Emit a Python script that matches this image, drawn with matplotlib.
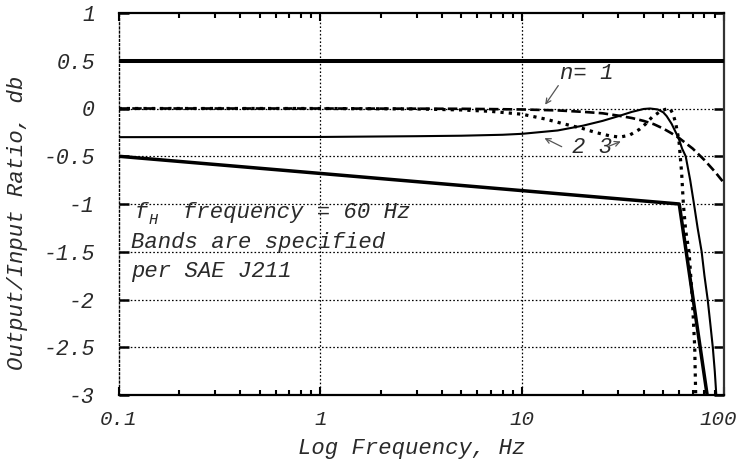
import matplotlib
matplotlib.use("Agg")
import matplotlib.pyplot as plt
import matplotlib.transforms as mtrans
from matplotlib.ticker import FixedLocator, FixedFormatter, LogLocator, NullFormatter

plt.rcParams['font.family'] = ['Liberation Mono', 'DejaVu Sans']
plt.rcParams['font.style'] = 'italic'

TXT = '#2a2a2a'

# ---- data ----
upper_f = [0.1, 100]
upper_db = [0.5, 0.5]

lower_f = [0.1, 60, 82.5]
lower_db = [-0.5, -1.0, -3.0]

n1_f = [0.1, 1, 5, 10, 15, 20, 25, 30, 35, 40, 45, 50, 55, 60, 70, 80, 90, 100]
n1_db = [0.0, 0.0, -0.003, -0.01, -0.02, -0.035, -0.05, -0.075, -0.1, -0.13,
         -0.165, -0.21, -0.26, -0.31, -0.42, -0.54, -0.66, -0.78]

n2_f = [0.1, 1, 3, 5, 8, 10, 15, 20, 25, 30, 35, 40, 43, 47, 50, 52, 55, 58,
        60, 62, 64.6, 68, 71, 74, 77.5, 80, 83, 85.5, 88, 90, 91.6]
n2_db = [-0.30, -0.298, -0.29, -0.285, -0.275, -0.265, -0.23, -0.18, -0.13,
         -0.08, -0.035, -0.005, 0.0, -0.01, -0.04, -0.08, -0.16, -0.26,
         -0.33, -0.42, -0.5, -0.75, -1.0, -1.25, -1.5, -1.75, -2.0, -2.25,
         -2.5, -2.75, -3.0]

n3_f = [0.1, 1, 3, 5, 7, 10, 13, 16, 20, 23, 27, 30.4, 34, 38, 41, 44, 48,
        51, 54, 56, 57.7, 59.8, 61.7, 62.9, 64.6, 67.1, 69.7, 71.6, 72.4]
n3_db = [0.0, 0.0, -0.005, -0.015, -0.03, -0.06, -0.11, -0.16, -0.21, -0.25,
         -0.285, -0.30, -0.28, -0.22, -0.16, -0.09, -0.035, -0.01, 0.0,
         -0.06, -0.16, -0.335, -0.68, -1.0, -1.28, -1.5, -2.0, -2.5, -3.0]

y_ticks = [-3, -2.5, -2, -1.5, -1, -0.5, 0, 0.5, 1]
y_labels = ['-3', '-2.5', '-2', '-1.5', '-1', '-0.5', '0', '0.5', '1']
x_ticks = [0.1, 1, 10, 100]
x_labels = ['0.1', '1', '10', '100']

# ---- figure ----
fig = plt.figure(figsize=(7.4, 4.62), dpi=100)
ax = fig.add_axes([118.5 / 740, (462 - 395) / 462, 605.5 / 740, 382 / 462])

ax.set_xscale('log')
ax.set_xlim(0.1, 100)
ax.set_ylim(-3, 1)

# grid
grid_kw = dict(color='black', lw=0.9, linestyle=(0, (1.3, 1.7)), zorder=1)
for v in [1, 10]:
    ax.axvline(v, **grid_kw)
for v in y_ticks[1:-1]:
    ax.axhline(v, **grid_kw)

ax.plot(upper_f, upper_db, color='black', lw=2.9, zorder=3, solid_capstyle='butt')
ax.plot(lower_f, lower_db, color='black', lw=2.5, zorder=3)
ax.plot(n1_f, n1_db, color='black', lw=1.9, dashes=(3.6, 1.6), zorder=4)
ax.plot(n2_f, n2_db, color='black', lw=1.5, zorder=4)
ax.plot(n3_f, n3_db, color='black', lw=2.3, dashes=(1.0, 1.6), zorder=4)

# spines
for s in ['top', 'bottom']:
    ax.spines[s].set_linewidth(1.6)
ax.spines['right'].set_linewidth(1.6)
ax.spines['right'].set_color('#333333')
ax.spines['left'].set_linewidth(1.0)
ax.spines['left'].set_linestyle((0, (1.3, 1.7)))

# ticks
ax.yaxis.set_major_locator(FixedLocator(y_ticks))
ax.yaxis.set_major_formatter(FixedFormatter(y_labels))
ax.xaxis.set_major_locator(FixedLocator(x_ticks))
ax.xaxis.set_major_formatter(FixedFormatter(x_labels))
ax.xaxis.set_minor_locator(LogLocator(base=10, subs=range(2, 10)))
ax.xaxis.set_minor_formatter(NullFormatter())
ax.tick_params(axis='y', which='major', direction='in', length=7, width=1.8,
               left=True, right=True, pad=17, labelsize=15.5, labelcolor=TXT)
ax.tick_params(axis='x', which='major', direction='in', length=6, width=1.5,
               top=True, bottom=True, pad=11, labelsize=15, labelcolor=TXT)
ax.tick_params(axis='x', which='minor', direction='in', length=3.5, width=1.5,
               top=True, bottom=True)

# keep the "100" label inside the canvas, as in the reference
lbl = ax.get_xticklabels()[-1]
lbl.set_transform(lbl.get_transform() + mtrans.ScaledTranslation(-6 / 100, 0, fig.dpi_scale_trans))

ax.set_xlabel('Log Frequency, Hz', fontsize=16, color=TXT)
ax.set_ylabel('Output/Input Ratio, db', fontsize=16, color=TXT)
ax.xaxis.set_label_coords((411.5 - 118.5) / 605.5, -0.112)
ax.yaxis.set_label_coords(-0.150, 0.45)

# text block
tk = dict(transform=ax.transAxes, fontsize=16, color=TXT, va='baseline', ha='left', zorder=6)
ax.text(0.026, 0.463, 'f', **tk)
ax.text(0.049, 0.448, 'H', transform=ax.transAxes, fontsize=11, color=TXT, va='baseline', ha='left', zorder=6)
ax.text(0.106, 0.463, 'frequency = 60 Hz', **tk)
ax.text(0.02, 0.386, 'Bands are specified', **tk)
ax.text(0.02, 0.309, 'per SAE J211', **tk)

# annotations
ak = dict(arrowstyle='->', color='#555555', lw=0.9, shrinkA=0, shrinkB=0, mutation_scale=9)
ax.text(15.4, 0.314, 'n= 1', fontsize=16, color=TXT, va='baseline', ha='left')
ax.annotate('', xy=(13.0, 0.04), xytext=(15.1, 0.24), arrowprops=ak)
ax.text(17.6, -0.47, '2 3', fontsize=16, color=TXT, va='baseline', ha='left')
ax.annotate('', xy=(12.9, -0.31), xytext=(15.7, -0.40), arrowprops=ak)
ax.annotate('', xy=(30.8, -0.345), xytext=(26.5, -0.40), arrowprops=ak)

fig.savefig('out.png', dpi=100)
